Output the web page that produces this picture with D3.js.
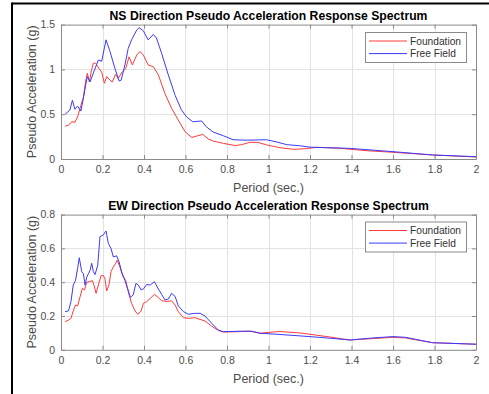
<!DOCTYPE html>
<html><head><meta charset="utf-8">
<script src="https://cdn.jsdelivr.net/npm/d3@7"></script>
<style>body{margin:0;background:#fff}svg{display:block}text{font-family:"Liberation Sans",Arial,sans-serif}</style>
</head><body><svg id="c" width="489" height="394"></svg>
<script>
const xTicks = [0,0.2,0.4,0.6,0.8,1,1.2,1.4,1.6,1.8,2];
const nsYTicks = [0,0.5,1,1.5];
const ewYTicks = [0,0.2,0.4,0.6,0.8];
const seriesNames = ["Foundation","Free Field"];
const titles = ["NS Direction Pseudo Acceleration Response Spectrum","EW Direction Pseudo Acceleration Response Spectrum"];

const nsFoundation = [[0.02,0.368],[0.036,0.375],[0.051,0.416],[0.067,0.41],[0.08,0.47],[0.096,0.6],[0.108,0.69],[0.119,0.87],[0.127,0.956],[0.137,0.86],[0.145,0.97],[0.156,1.07],[0.167,1.07],[0.183,1.01],[0.196,0.97],[0.209,0.845],[0.22,0.92],[0.236,0.88],[0.247,0.86],[0.263,0.945],[0.276,0.9],[0.292,0.96],[0.312,1.01],[0.328,1.14],[0.344,1.05],[0.365,1.16],[0.38,1.2],[0.397,1.16],[0.42,1.05],[0.445,1.03],[0.469,0.94],[0.501,0.73],[0.533,0.565],[0.565,0.435],[0.598,0.305],[0.63,0.24],[0.66,0.26],[0.683,0.275],[0.71,0.223],[0.734,0.2],[0.782,0.175],[0.839,0.15],[0.87,0.16],[0.91,0.186],[0.95,0.185],[0.99,0.158],[1.055,0.126],[1.12,0.108],[1.18,0.115],[1.23,0.13],[1.34,0.12],[1.47,0.093],[1.6,0.075],[1.79,0.045],[2.0,0.022]];
const nsFreeField = [[0.02,0.5],[0.043,0.547],[0.055,0.655],[0.067,0.555],[0.08,0.59],[0.096,0.535],[0.108,0.68],[0.119,0.826],[0.127,0.92],[0.14,0.86],[0.156,0.96],[0.18,1.105],[0.196,1.09],[0.217,1.33],[0.236,1.2],[0.26,1.01],[0.28,0.87],[0.29,0.88],[0.308,1.05],[0.324,1.235],[0.34,1.33],[0.365,1.44],[0.377,1.465],[0.397,1.43],[0.42,1.33],[0.445,1.39],[0.46,1.35],[0.485,1.18],[0.517,0.94],[0.55,0.71],[0.58,0.55],[0.605,0.47],[0.635,0.416],[0.655,0.42],[0.678,0.424],[0.7,0.36],[0.734,0.3],[0.782,0.26],[0.83,0.215],[0.895,0.21],[0.99,0.215],[1.04,0.19],[1.088,0.16],[1.15,0.148],[1.2,0.132],[1.39,0.119],[1.6,0.082],[1.79,0.045],[2.0,0.026]];
const ewFoundation = [[0.02,0.166],[0.036,0.176],[0.048,0.186],[0.059,0.23],[0.07,0.265],[0.08,0.26],[0.092,0.314],[0.103,0.364],[0.113,0.354],[0.124,0.4],[0.14,0.404],[0.151,0.41],[0.159,0.383],[0.169,0.334],[0.18,0.383],[0.193,0.438],[0.204,0.44],[0.212,0.42],[0.22,0.348],[0.231,0.383],[0.241,0.462],[0.252,0.49],[0.263,0.51],[0.271,0.53],[0.284,0.49],[0.297,0.438],[0.312,0.41],[0.324,0.344],[0.34,0.275],[0.357,0.23],[0.37,0.21],[0.386,0.23],[0.397,0.275],[0.413,0.285],[0.43,0.304],[0.45,0.328],[0.469,0.31],[0.485,0.29],[0.509,0.286],[0.533,0.29],[0.55,0.265],[0.565,0.226],[0.59,0.19],[0.614,0.186],[0.645,0.19],[0.67,0.18],[0.694,0.17],[0.726,0.14],[0.758,0.115],[0.782,0.105],[0.862,0.108],[0.91,0.11],[0.959,0.098],[1.007,0.104],[1.055,0.108],[1.15,0.1],[1.2,0.092],[1.3,0.075],[1.39,0.058],[1.5,0.066],[1.6,0.074],[1.66,0.07],[1.79,0.042],[2.0,0.033]];
const ewFreeField = [[0.02,0.226],[0.036,0.23],[0.048,0.285],[0.059,0.383],[0.07,0.41],[0.08,0.482],[0.088,0.545],[0.1,0.462],[0.108,0.45],[0.116,0.383],[0.124,0.43],[0.132,0.45],[0.14,0.47],[0.148,0.512],[0.156,0.462],[0.164,0.445],[0.177,0.5],[0.188,0.67],[0.204,0.68],[0.217,0.703],[0.228,0.63],[0.241,0.6],[0.252,0.55],[0.268,0.556],[0.28,0.52],[0.292,0.462],[0.308,0.41],[0.321,0.363],[0.334,0.31],[0.348,0.325],[0.361,0.393],[0.373,0.383],[0.386,0.354],[0.397,0.36],[0.413,0.387],[0.43,0.383],[0.45,0.403],[0.469,0.36],[0.485,0.328],[0.501,0.295],[0.517,0.3],[0.533,0.334],[0.55,0.316],[0.565,0.26],[0.59,0.226],[0.614,0.21],[0.638,0.215],[0.67,0.216],[0.694,0.2],[0.726,0.157],[0.758,0.117],[0.782,0.107],[0.862,0.11],[0.92,0.11],[0.96,0.098],[1.04,0.092],[1.2,0.078],[1.3,0.068],[1.393,0.058],[1.5,0.07],[1.6,0.078],[1.66,0.074],[1.79,0.042],[2.0,0.033]];

const svg = d3.select("#c");
svg.append("rect").attr("width",489).attr("height",394).attr("fill","#fff");
// outer frame
svg.append("line").attr("x1",12).attr("x2",489).attr("y1",3.5).attr("y2",3.5).attr("stroke","#000").attr("stroke-width",2);
svg.append("line").attr("x1",12).attr("x2",12).attr("y1",2.5).attr("y2",394).attr("stroke","#000").attr("stroke-width",2);

const colors = ["#ff3a3a","#3a3aff"];
const L = 61, R = 476;

function panel(top, bottom, yMax, yTicks, data, title, legTop) {
  const x = d3.scaleLinear().domain([0,2]).range([L,R]);
  const y = d3.scaleLinear().domain([0,yMax]).range([bottom,top]);
  const g = svg.append("g");
  // grid
  g.append("g").selectAll("line").data(xTicks.slice(1,-1)).join("line")
    .attr("x1",d=>Math.round(x(d))+0.5).attr("x2",d=>Math.round(x(d))+0.5)
    .attr("y1",top).attr("y2",bottom).attr("stroke","#e3e3e3");
  g.append("g").selectAll("line").data(yTicks.slice(1,-1)).join("line")
    .attr("y1",d=>Math.round(y(d))+0.5).attr("y2",d=>Math.round(y(d))+0.5)
    .attr("x1",L).attr("x2",R).attr("stroke","#e3e3e3");
  // axes
  const fmt = d=>String(+d.toFixed(2));
  const ax = [
    [d3.axisBottom(x).tickValues(xTicks).tickFormat(fmt).tickSizeInner(-4).tickSizeOuter(0).tickPadding(7), `translate(0,${bottom})`],
    [d3.axisTop(x).tickValues(xTicks).tickFormat("").tickSizeInner(-4).tickSizeOuter(0), `translate(0,${top})`],
    [d3.axisLeft(y).tickValues(yTicks).tickFormat(fmt).tickSizeInner(-4).tickSizeOuter(0).tickPadding(6), `translate(${L},0)`],
    [d3.axisRight(y).tickValues(yTicks).tickFormat("").tickSizeInner(-4).tickSizeOuter(0), `translate(${R},0)`]
  ];
  ax.forEach(([a,t])=>{
    const s = g.append("g").attr("transform",t).call(a);
    s.selectAll("path,line").attr("stroke","#8a8a8a");
    s.selectAll("text").attr("fill","#4d4d4d").style("font-size","10.5px").style("font-family",'"Liberation Sans",Arial,sans-serif');
  });
  // lines
  const line = d3.line().x(d=>x(d[0])).y(d=>y(d[1]));
  data.forEach((d,i)=>{
    g.append("path").datum(d).attr("d",line).attr("fill","none").attr("stroke",colors[i]).attr("stroke-width",1);
  });
  // title
  g.append("text").attr("x",(L+R)/2).attr("y",top-5).attr("text-anchor","middle")
    .style("font-weight","bold").style("font-size","12.2px").attr("fill","#000").text(title);
  g.append("text").attr("x",(L+R)/2).attr("y",bottom+33).attr("text-anchor","middle")
    .style("font-size","12.5px").attr("fill","#4d4d4d").text("Period (sec.)");
  g.append("text").attr("transform",`translate(35.5,${(top+bottom)/2}) rotate(-90)`).attr("text-anchor","middle")
    .style("font-size","12.5px").attr("fill","#4d4d4d").text("Pseudo Acceleration (g)");
  // legend
  const lg = g.append("g");
  lg.append("rect").attr("x",365.5).attr("y",legTop+0.5).attr("width",101).attr("height",30)
    .attr("fill","#fff").attr("stroke","#8a8a8a");
  seriesNames.forEach((n,i)=>{
    const yy = legTop + 9 + i*12.6;
    lg.append("line").attr("x1",369).attr("x2",407).attr("y1",yy).attr("y2",yy).attr("stroke",colors[i]);
    lg.append("text").attr("x",410).attr("y",yy+3.6).style("font-size","10.2px").attr("fill","#333").text(n);
  });
}
panel(24.6, 159, 1.5, nsYTicks, [nsFoundation, nsFreeField], titles[0], 32);
panel(214.6, 349.8, 0.8, ewYTicks, [ewFoundation, ewFreeField], titles[1], 221.5);
</script></body></html>
